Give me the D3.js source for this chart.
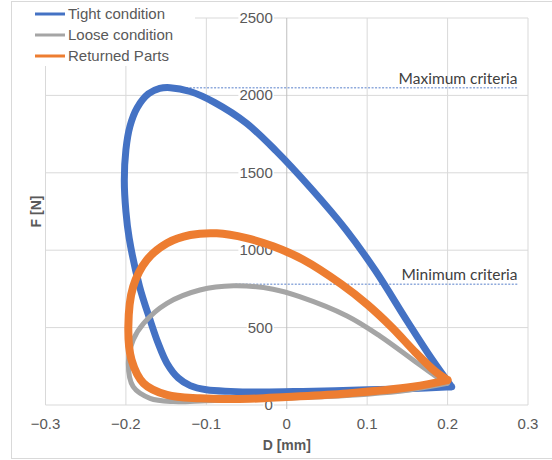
<!doctype html>
<html>
<head>
  <title>F-D loops</title>
  <meta charset="UTF-8">
  <script src="https://d3js.org/d3.v7.min.js"></script>
  <style>
    body { margin: 0; background: #fff; }
  </style>
</head>
<body>
  <div id="svg_area"></div>
</body>
</html>
<script>

// series (D in mm, F in N), each loop starts and ends at the tip
var tightD = [0.205, 0.15, 0.1, 0.02, -0.03, -0.07, -0.1, -0.12, -0.135, -0.149, -0.16, -0.17, -0.183, -0.196, -0.2, -0.202, -0.2, -0.195, -0.186, -0.172, -0.158, -0.145, -0.12, -0.09, -0.05, -0.013, 0.03, 0.074, 0.11, 0.15, 0.18, 0.205];
var tightF = [118, 105, 98, 88, 84, 88, 98, 125, 175, 270, 400, 550, 765, 1080, 1250, 1450, 1650, 1800, 1920, 2010, 2045, 2050, 2025, 1955, 1820, 1640, 1400, 1130, 870, 540, 300, 118];

var looseD = [0.2, 0.15, 0.1, 0.05, 0.0, -0.05, -0.1, -0.141, -0.17, -0.191, -0.197, -0.191, -0.178, -0.149, -0.108, -0.066, -0.017, 0.016, 0.075, 0.116, 0.157, 0.186, 0.2];
var looseF = [140, 95, 70, 55, 45, 35, 28, 22, 43, 118, 269, 420, 528, 657, 743, 770, 748, 700, 575, 445, 291, 183, 140];

var returnedD = [0.2, 0.157, 0.075, 0.0, -0.046, -0.108, -0.149, -0.178, -0.193, -0.197, -0.191, -0.174, -0.149, -0.12, -0.087, -0.05, -0.017, 0.02, 0.068, 0.1, 0.131, 0.16, 0.185, 0.2];
var returnedF = [161, 118, 75, 52, 40, 43, 65, 140, 291, 506, 764, 937, 1045, 1098, 1109, 1078, 1025, 940, 780, 650, 500, 340, 215, 161];

var seriesNames = ["Tight condition", "Loose condition", "Returned Parts"];

// criteria lines
var critNames = ["Maximum criteria", "Minimum criteria"];
var critF = [2050, 780];
var critStart = [-0.16, -0.064];
var critEnd = 0.287;

// ticks
var xTicks = [-0.3, -0.2, -0.1, 0, 0.1, 0.2, 0.3];
var yTicks = [0, 500, 1000, 1500, 2000, 2500];

function drawChart(){

  var W = 552, H = 460;
  var colours = ["#4472C4", "#A5A5A5", "#ED7D31"];
  var widths = [7, 5, 8];
  var textGrey = "#595959";

  var svg = d3.select("#svg_area").append("svg")
      .attr("width", W)
      .attr("height", H);

  // outer chart border
  svg.append("rect")
      .attr("x", 11.5).attr("y", 1.5)
      .attr("width", 600).attr("height", 457)
      .attr("fill", "#fff")
      .attr("stroke", "#d9d9d9");

  var xScale = d3.scaleLinear().domain([-0.3, 0.3]).range([45.5, 528]);
  var yScale = d3.scaleLinear().domain([0, 2500]).range([405, 18]);

  // gridlines
  svg.append("g").selectAll("line")
      .data(xTicks.filter(function(d){ return d !== 0; }))
      .enter().append("line")
      .attr("x1", function(d){ return xScale(d); })
      .attr("x2", function(d){ return xScale(d); })
      .attr("y1", yScale(0)).attr("y2", yScale(2500))
      .attr("stroke", "#d9d9d9");

  svg.append("g").selectAll("line")
      .data(yTicks)
      .enter().append("line")
      .attr("x1", xScale(-0.3)).attr("x2", xScale(0.3))
      .attr("y1", function(d){ return yScale(d); })
      .attr("y2", function(d){ return yScale(d); })
      .attr("stroke", "#d9d9d9");

  // the vertical axis sits at D = 0
  svg.append("line")
      .attr("x1", xScale(0)).attr("x2", xScale(0))
      .attr("y1", yScale(2500)).attr("y2", yScale(0) + 4)
      .attr("stroke", "#bfbfbf");

  // y labels with white box behind them
  var yl = svg.append("g").selectAll("g")
      .data(yTicks)
      .enter().append("g");
  yl.append("text")
      .attr("x", xScale(0) - 14)
      .attr("y", function(d){ return yScale(d) + 5; })
      .attr("text-anchor", "end")
      .attr("font-family", "Liberation Sans, Arial, sans-serif")
      .attr("font-size", "15px")
      .attr("fill", textGrey)
      .text(function(d){ return d; });
  yl.each(function(){
    var t = d3.select(this).select("text");
    var b = t.node().getBBox();
    d3.select(this).insert("rect", "text")
        .attr("x", b.x - 1).attr("y", b.y + 2)
        .attr("width", b.width + 2).attr("height", b.height - 4)
        .attr("fill", "#fff");
  });

  // x labels
  svg.append("g").selectAll("text")
      .data(xTicks)
      .enter().append("text")
      .attr("x", function(d){ return xScale(d); })
      .attr("y", 429)
      .attr("text-anchor", "middle")
      .attr("font-family", "Liberation Sans, Arial, sans-serif")
      .attr("font-size", "15px")
      .attr("fill", textGrey)
      .text(function(d){ return d === 0 ? "0" : d3.format(".1f")(d); });

  // axis titles
  svg.append("text")
      .attr("x", (xScale(-0.3) + xScale(0.3)) / 2)
      .attr("y", 450)
      .attr("text-anchor", "middle")
      .attr("font-family", "Liberation Sans, Arial, sans-serif")
      .attr("font-weight", "bold")
      .attr("font-size", "14px")
      .attr("fill", textGrey)
      .text("D [mm]");

  svg.append("text")
      .attr("transform", "translate(41," + ((yScale(0) + yScale(2500)) / 2) + ") rotate(-90)")
      .attr("text-anchor", "middle")
      .attr("font-family", "Liberation Sans, Arial, sans-serif")
      .attr("font-weight", "bold")
      .attr("font-size", "14px")
      .attr("fill", textGrey)
      .text("F [N]");

  // criteria lines and their labels
  critF.forEach(function(f, i){
    svg.append("line")
        .attr("x1", xScale(critStart[i])).attr("x2", xScale(critEnd))
        .attr("y1", yScale(f)).attr("y2", yScale(f))
        .attr("stroke", "#8FAADC")
        .attr("stroke-width", 1.5)
        .attr("stroke-dasharray", "2,1.5");
    svg.append("text")
        .attr("x", xScale(critEnd))
        .attr("y", yScale(f) - 4)
        .attr("text-anchor", "end")
        .attr("font-family", "Lato, sans-serif")
        .attr("font-size", "15.5px")
        .attr("fill", "#404040")
        .text(critNames[i]);
  });

  // the three loops
  var line = d3.line()
      .x(function(d){ return xScale(d[0]); })
      .y(function(d){ return yScale(d[1]); })
      .curve(d3.curveCatmullRom.alpha(0.5));

  var allD = [tightD, looseD, returnedD];
  var allF = [tightF, looseF, returnedF];

  allD.forEach(function(ds, s){
    var pts = ds.map(function(d, i){ return [d, allF[s][i]]; });
    svg.append("path")
        .attr("d", line(pts))
        .attr("fill", "none")
        .attr("stroke", colours[s])
        .attr("stroke-width", widths[s])
        .attr("stroke-linejoin", "round")
        .attr("stroke-linecap", "round");
  });

  // legend, white box over the gridlines
  var legend = svg.append("g");
  legend.append("rect")
      .attr("x", 28).attr("y", 3)
      .attr("width", 167).attr("height", 63)
      .attr("fill", "#fff");

  var rows = legend.selectAll("g")
      .data(seriesNames)
      .enter().append("g")
      .attr("transform", function(d, i){ return "translate(0," + (14 + i * 21) + ")"; });
  rows.append("line")
      .attr("x1", 35).attr("x2", 65)
      .attr("y1", 0).attr("y2", 0)
      .attr("stroke", function(d, i){ return colours[i]; })
      .attr("stroke-width", 3);
  rows.append("text")
      .attr("x", 68).attr("y", 5)
      .attr("font-family", "Liberation Sans, Arial, sans-serif")
      .attr("font-size", "15px")
      .attr("fill", textGrey)
      .text(function(d){ return d; });
}

drawChart();

</script>
